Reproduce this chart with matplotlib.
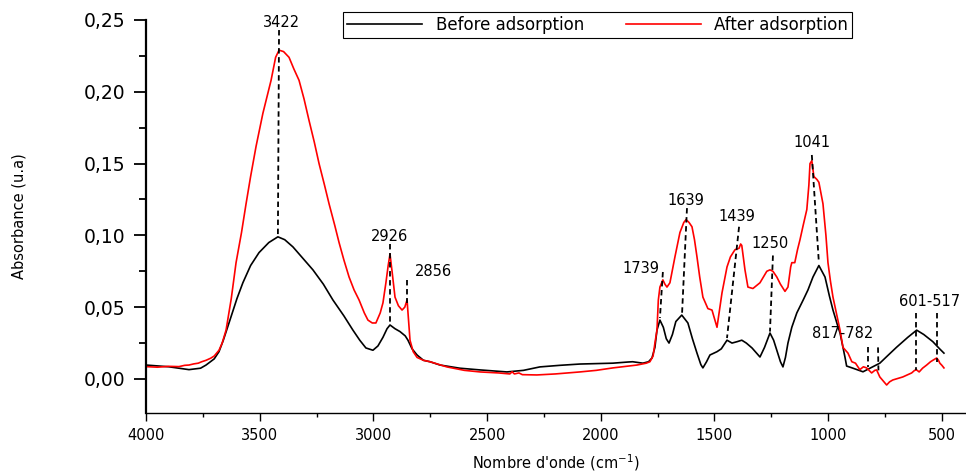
import numpy as np
import matplotlib
matplotlib.use("Agg")
import matplotlib.pyplot as plt
from matplotlib.ticker import MultipleLocator, FuncFormatter

plt.rcParams['font.family'] = ['DejaVu Sans']

# FTIR spectrum before adsorption (wavenumber cm-1, absorbance)
wn_before = [4000, 3900, 3811, 3760, 3736, 3700, 3679, 3660, 3635, 3600, 3574, 3540,
             3503, 3460, 3420, 3390, 3354, 3310, 3266, 3220, 3178, 3130, 3090, 3060,
             3033, 3002, 2980, 2958, 2940, 2927, 2905, 2883, 2860, 2848, 2830, 2808,
             2780, 2751, 2707, 2620, 2531, 2413, 2340, 2268, 2180, 2092, 1947, 1881,
             1860, 1815, 1790, 1775, 1762, 1753, 1740, 1725, 1712, 1700, 1685, 1670,
             1644, 1617, 1597, 1577, 1560, 1551, 1535, 1520, 1489, 1470, 1445, 1423,
             1400, 1380, 1360, 1335, 1300, 1280, 1256, 1240, 1226, 1210, 1199, 1188,
             1177, 1160, 1138, 1110, 1089, 1067, 1041, 1014, 995, 979, 960, 948,
             935, 926, 919, 891, 847, 810, 773, 740, 700, 650, 611, 580,
             540, 510, 491]
abs_before = [0.0097, 0.0085, 0.0065, 0.0075, 0.0097, 0.014, 0.019, 0.027, 0.039, 0.056, 0.067, 0.079,
              0.088, 0.095, 0.099, 0.097, 0.092, 0.084, 0.076, 0.066, 0.055, 0.044, 0.034, 0.027,
              0.0216, 0.020, 0.023, 0.029, 0.035, 0.0376, 0.035, 0.033, 0.030, 0.027, 0.021, 0.0167,
              0.013, 0.012, 0.0097, 0.0075, 0.0063, 0.0049, 0.006, 0.0084, 0.0095, 0.0104, 0.011, 0.0118,
              0.012, 0.011, 0.012, 0.0146, 0.022, 0.034, 0.041, 0.036, 0.028, 0.025, 0.031, 0.040,
              0.0445, 0.039, 0.028, 0.018, 0.010, 0.0077, 0.012, 0.0167, 0.019, 0.021, 0.027, 0.025,
              0.026, 0.027, 0.025, 0.0216, 0.0153, 0.022, 0.032, 0.027, 0.020, 0.012, 0.0084, 0.015,
              0.025, 0.036, 0.046, 0.055, 0.062, 0.071, 0.079, 0.071, 0.058, 0.048, 0.038, 0.032,
              0.022, 0.015, 0.009, 0.0075, 0.005, 0.008, 0.011, 0.016, 0.022, 0.029, 0.034, 0.031,
              0.026, 0.021, 0.018]

# FTIR spectrum after adsorption
wn_after = [4000, 3950, 3900, 3855, 3830, 3811, 3790, 3770, 3755, 3736, 3715, 3700,
            3679, 3665, 3648, 3625, 3604, 3580, 3560, 3540, 3516, 3486, 3450, 3430,
            3415, 3395, 3371, 3350, 3327, 3305, 3283, 3260, 3239, 3215, 3195, 3170,
            3151, 3130, 3107, 3085, 3063, 3040, 3024, 3005, 2989, 2970, 2958, 2945,
            2935, 2927, 2918, 2905, 2890, 2874, 2862, 2852, 2845, 2839, 2825, 2808,
            2780, 2751, 2677, 2600, 2531, 2450, 2400, 2390, 2380, 2360, 2345, 2281,
            2200, 2092, 2020, 1947, 1880, 1841, 1800, 1784, 1770, 1762, 1753, 1747,
            1740, 1727, 1718, 1709, 1696, 1685, 1674, 1652, 1635, 1625, 1612, 1599,
            1588, 1577, 1565, 1551, 1529, 1511, 1500, 1489, 1478, 1467, 1455, 1445,
            1430, 1410, 1392, 1385, 1380, 1366, 1353, 1331, 1300, 1285, 1270, 1256,
            1243, 1226, 1210, 1190, 1177, 1165, 1160, 1147, 1135, 1124, 1110, 1094,
            1085, 1080, 1072, 1063, 1050, 1041, 1030, 1023, 1010, 1001, 990, 979,
            960, 948, 935, 913, 896, 880, 861, 845, 831, 820, 809, 795,
            787, 773, 760, 743, 730, 716, 690, 672, 650, 633, 620, 611,
            600, 585, 567, 550, 540, 523, 515, 509, 500, 491]
abs_after = [0.0086, 0.0082, 0.0088, 0.0086, 0.0095, 0.0097, 0.0105, 0.011, 0.012, 0.013, 0.0145, 0.016,
             0.020, 0.025, 0.034, 0.056, 0.081, 0.102, 0.122, 0.141, 0.162, 0.185, 0.208, 0.224,
             0.229, 0.228, 0.224, 0.216, 0.208, 0.195, 0.180, 0.165, 0.150, 0.135, 0.122, 0.107,
             0.095, 0.083, 0.071, 0.062, 0.055, 0.046, 0.041, 0.039, 0.039, 0.046, 0.053, 0.067,
             0.079, 0.087, 0.075, 0.057, 0.051, 0.048, 0.050, 0.055, 0.040, 0.027, 0.019, 0.015,
             0.013, 0.012, 0.0084, 0.006, 0.0049, 0.0042, 0.0035, 0.0050, 0.0035, 0.0042, 0.0030, 0.0028,
             0.0035, 0.0049, 0.006, 0.0077, 0.009, 0.0097, 0.011, 0.012, 0.016, 0.025, 0.034, 0.055,
             0.064, 0.069, 0.066, 0.064, 0.067, 0.076, 0.085, 0.102, 0.109, 0.111, 0.109, 0.106,
             0.097, 0.085, 0.071, 0.057, 0.049, 0.048, 0.042, 0.036, 0.048, 0.060, 0.070, 0.078,
             0.085, 0.090, 0.091, 0.094, 0.093, 0.076, 0.064, 0.063, 0.067, 0.071, 0.075, 0.076,
             0.075, 0.071, 0.066, 0.061, 0.064, 0.078, 0.081, 0.081, 0.090, 0.097, 0.107, 0.118,
             0.135, 0.150, 0.152, 0.141, 0.139, 0.137, 0.128, 0.122, 0.100, 0.081, 0.068, 0.057,
             0.043, 0.034, 0.022, 0.018, 0.012, 0.011, 0.0065, 0.0085, 0.0077, 0.006, 0.0042, 0.006,
             0.0063, 0.0014, -0.001, -0.0042, -0.002, -0.0007, 0.0005, 0.0014, 0.0030, 0.0042, 0.0060, 0.0063,
             0.0049, 0.0075, 0.0097, 0.012, 0.013, 0.0146, 0.013, 0.011, 0.0095, 0.0077]

# peak labels
peak_labels = ["3422", "2926", "2856", "1739", "1639", "1439", "1250", "1041", "817-782", "601-517"]
label_x = [3406, 2931, 2738, 1823, 1626, 1401, 1256, 1072, 935, 553]
label_y = [0.248, 0.0995, 0.075, 0.077, 0.124, 0.113, 0.094, 0.165, 0.032, 0.054]

# dashed guide lines (x0, y0, x1, y1)
guides = [(3415, 0.243, 3420, 0.099), (2927, 0.094, 2927, 0.0376),
          (2852, 0.069, 2852, 0.053), (1727, 0.0745, 1740, 0.0425),
          (1621, 0.119, 1643, 0.0445), (1392, 0.106, 1445, 0.0285),
          (1243, 0.086, 1256, 0.033), (1072, 0.156, 1041, 0.081),
          (825, 0.022, 825, 0.0084), (781, 0.022, 779, 0.006),
          (614, 0.046, 614, 0.006), (522, 0.046, 522, 0.012)]

fig = plt.figure(figsize=(9.66, 4.72), dpi=100)
ax = fig.add_axes([146/966, 59/472, 820/966, 393/472])

ax.plot(wn_before, abs_before, color="black", lw=1.2, label="Before adsorption")
ax.plot(wn_after, abs_after, color="#ff0000", lw=1.2, label="After adsorption")

for (x0, y0, x1, y1) in guides:
    ax.plot([x0, x1], [y0, y1], color="black", lw=1.3, ls=(0, (3, 2)))
for t, x, y in zip(peak_labels, label_x, label_y):
    ax.text(x, y, t, ha="center", va="center", fontsize=10.5, clip_on=False)

ax.set_xlim(4000, 394)
ax.set_ylim(-0.0237, 0.25)
ax.xaxis.set_major_locator(MultipleLocator(500))
ax.xaxis.set_minor_locator(MultipleLocator(250))
ax.yaxis.set_major_locator(MultipleLocator(0.05))
ax.yaxis.set_minor_locator(MultipleLocator(0.025))
ax.yaxis.set_major_formatter(FuncFormatter(lambda v, p: f"{v:.2f}".replace(".", ",")))

ax.spines["top"].set_visible(False)
ax.spines["right"].set_visible(False)
ax.spines["left"].set_linewidth(1.6)
ax.spines["bottom"].set_linewidth(1.0)
ax.tick_params(axis="x", which="major", direction="out", length=6, width=1, pad=5, labelsize=10.5)
ax.tick_params(axis="x", which="minor", direction="out", length=3, width=1)
ax.tick_params(axis="y", which="major", direction="out", length=9, width=1.3, pad=6, labelsize=13.5)
ax.tick_params(axis="y", which="minor", direction="out", length=5, width=1.3)

ax.set_xlabel("Nombre d'onde (cm$^{-1}$)", fontsize=10.5)
ax.set_ylabel("Absorbance (u.a)", fontsize=10.5)
ax.xaxis.set_label_coords(0.5, -0.1)
ax.yaxis.set_label_coords(-0.146, 0.5)

leg = ax.legend(loc="lower left", ncol=2, mode="expand", fontsize=12,
                bbox_to_anchor=(343/966, 1 - 38/472, (852-343)/966, 27/472),
                bbox_transform=fig.transFigure, fancybox=False, framealpha=1,
                edgecolor="black", handlelength=4.5, borderaxespad=0, borderpad=0.25)
leg.get_frame().set_linewidth(0.8)

fig.savefig("out.png", dpi=100)
